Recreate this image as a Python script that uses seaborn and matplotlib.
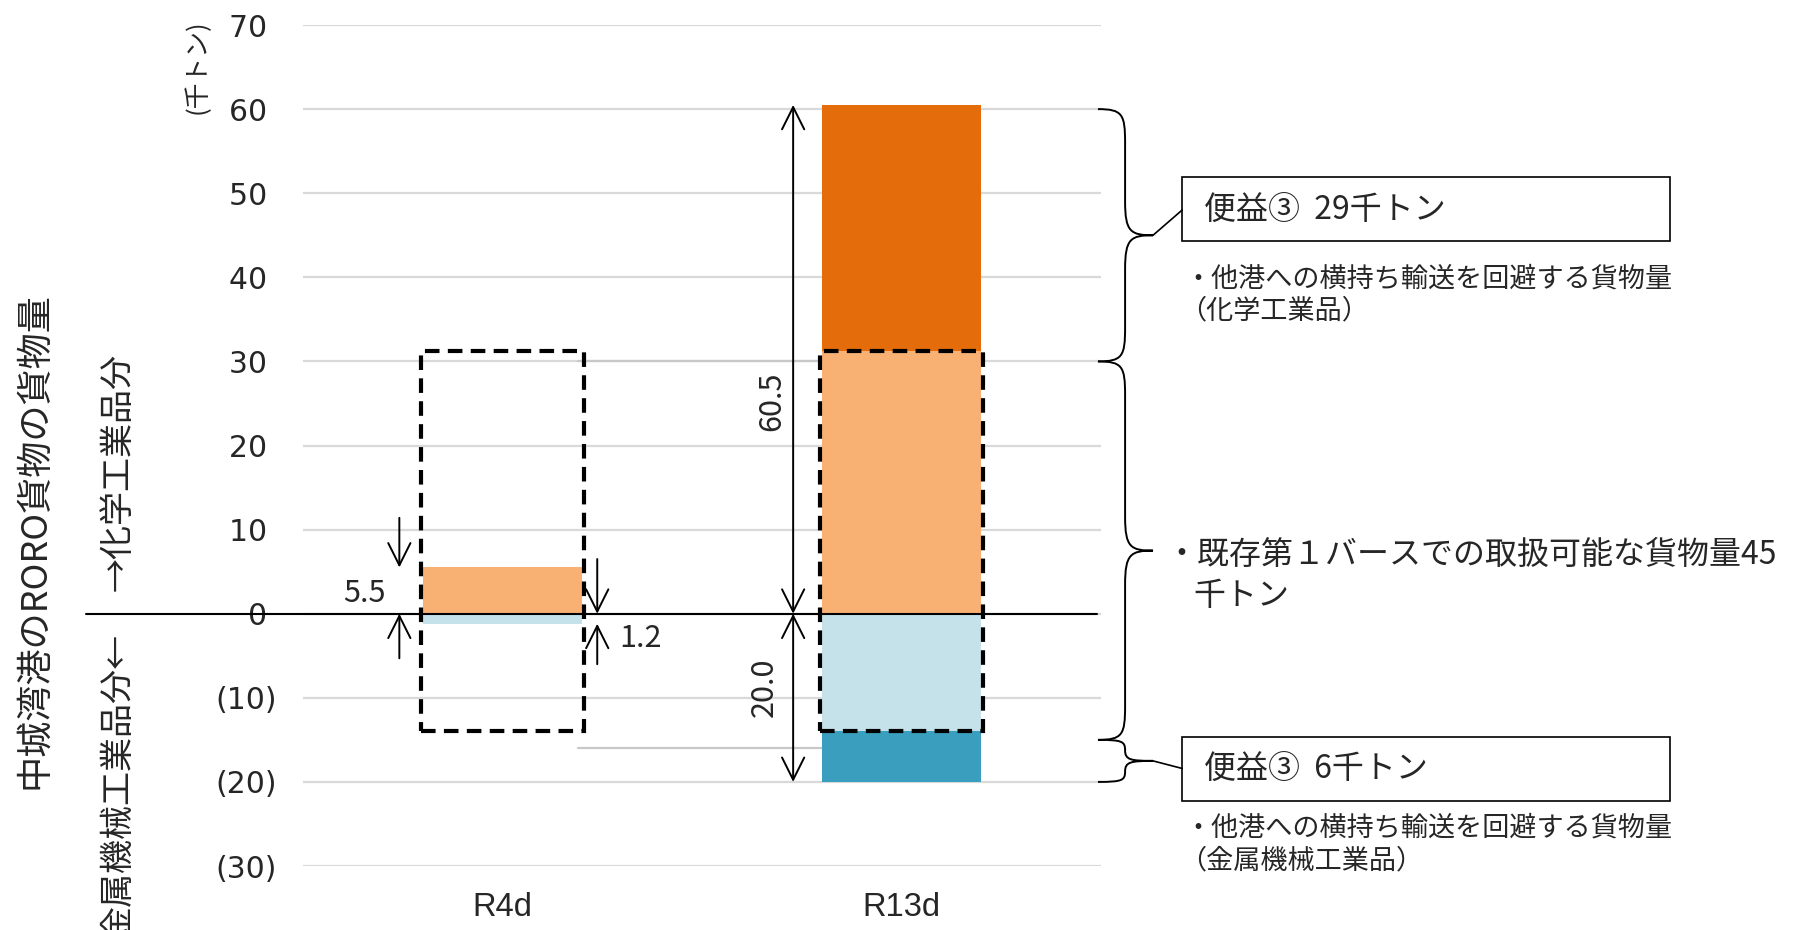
import matplotlib
matplotlib.use("Agg")
import matplotlib.pyplot as plt
from matplotlib.path import Path
from matplotlib.patches import PathPatch, Rectangle
import pandas as pd
import seaborn as sns

# ---- data (thousand tonnes) ----
categories = ["R4d", "R13d"]
chem_existing = [5.5, 31.2]     # 化学工業品: handled at the existing berth
chem_benefit = [0.0, 29.3]      # 化学工業品: avoided transshipment
metal_existing = [1.2, 14.0]    # 金属機械工業品: handled at the existing berth
metal_benefit = [0.0, 6.0]      # 金属機械工業品: avoided transshipment
y_ticks = [-30, -20, -10, 0, 10, 20, 30, 40, 50, 60, 70]
y_tick_labels = ["(30)", "(20)", "(10)", "0 ", "10 ", "20 ", "30 ", "40 ",
                 "50 ", "60 ", "70 "]

DARK_ORANGE = "#E46C0A"
LIGHT_ORANGE = "#F8B172"
LIGHT_BLUE = "#C5E2EB"
DARK_BLUE = "#3A9FBE"
GRID = "#D9D9D9"

sns.set_style("white")
plt.rcParams["font.family"] = ["Noto Sans CJK JP", "DejaVu Sans"]

chem_total = [a + b for a, b in zip(chem_existing, chem_benefit)]
metal_total = [a + b for a, b in zip(metal_existing, metal_benefit)]
df = pd.DataFrame({
    "category": categories,
    "chem_total": chem_total,
    "chem_existing": chem_existing,
    "metal_total": [-v for v in metal_total],
    "metal_existing": [-v for v in metal_existing],
})

fig = plt.figure(figsize=(17.94, 9.30), dpi=100)
ax = fig.add_axes([0.169, 0.0688, 0.4448, 0.9043])

# stacked bars: totals first, the existing-berth part drawn over them
for col, colr in [("chem_total", DARK_ORANGE), ("chem_existing", LIGHT_ORANGE),
                  ("metal_total", DARK_BLUE), ("metal_existing", LIGHT_BLUE)]:
    sns.barplot(data=df, x="category", y=col, order=categories, color=colr,
                width=0.4, saturation=1, linewidth=0, errorbar=None, ax=ax,
                zorder=2)

ax.set_xlim(-0.5, 1.5)
ax.set_ylim(-30, 70)
ax.set_xlabel("")
ax.set_ylabel("")
for s in ax.spines.values():
    s.set_visible(False)
ax.set_yticks(y_ticks)
ax.set_yticklabels(y_tick_labels, fontsize=21.5, family="DejaVu Sans")
ax.tick_params(axis="y", length=0, pad=19)
ax.tick_params(axis="x", length=0, pad=19)
for t in ax.get_xticklabels():
    t.set_fontsize(23.5)
    t.set_family("Liberation Sans")
ax.yaxis.grid(True, color=GRID, lw=1.6, zorder=0)
ax.xaxis.grid(False)
ax.set_axisbelow(True)

# zero line, running out to the left label
ax.plot([-1.044, 1.49], [0, 0], color="black", lw=1.5, clip_on=False, zorder=4)
# series connector lines
ax.plot([0.19, 0.8], [30, 30], color="#C8C8C8", lw=1.6, zorder=1)
ax.plot([0.19, 0.8], [-16, -16], color="#C8C8C8", lw=1.6, zorder=1)

# dashed capacity boxes of the existing berth
cap_top = chem_existing[1]
cap_bottom = -metal_existing[1]
for i in range(len(categories)):
    ax.add_patch(Rectangle((i - 0.205, cap_bottom), 0.41, cap_top - cap_bottom,
                           fill=False, ec="black", lw=3,
                           ls=(0, (3.5, 2.0)), zorder=6, clip_on=False))

arrow = dict(arrowstyle="->", color="black", lw=1.4, mutation_scale=40,
             shrinkA=0, shrinkB=0)
darrow = dict(arrowstyle="<->", color="black", lw=1.4, mutation_scale=40,
              shrinkA=0, shrinkB=0)
NUM = 22

# R4d value markers
ax.annotate("", xy=(-0.259, chem_total[0]), xytext=(-0.259, 11.4), arrowprops=arrow)
ax.annotate("", xy=(-0.259, 0), xytext=(-0.259, -5.3), arrowprops=arrow)
ax.text(-0.347, 2.4, f"{chem_total[0]:.1f}", fontsize=NUM, ha="center", va="center")
ax.annotate("", xy=(0.237, 0), xytext=(0.237, 6.5), arrowprops=arrow)
ax.annotate("", xy=(0.237, -metal_total[0]), xytext=(0.237, -6.0), arrowprops=arrow)
ax.text(0.345, -3.0, f"{metal_total[0]:.1f}", fontsize=NUM, ha="center", va="center")

# R13d totals
ax.annotate("", xy=(0.728, chem_total[1]), xytext=(0.728, 0), arrowprops=darrow)
ax.annotate("", xy=(0.728, -metal_total[1]), xytext=(0.728, 0), arrowprops=darrow)
ax.text(0.675, 25.3, f"{chem_total[1]:.1f}", fontsize=NUM, rotation=90,
        ha="center", va="center")
ax.text(0.655, -8.7, f"{metal_total[1]:.1f}", fontsize=NUM, rotation=90,
        ha="center", va="center")


def brace(y_top, y_bot, x0=1.492, xs=1.56, xt=1.63, r=4.0):
    r = min(r, (y_top - y_bot) / 4)
    ym = (y_top + y_bot) / 2
    verts = [
        (x0, y_top),
        (x0 + (xs - x0) * 0.9, y_top), (xs, y_top - r * 0.15), (xs, y_top - r),
        (xs, ym + r),
        (xs, ym + r * 0.1), (xs + (xt - xs) * 0.2, ym), (xt, ym),
        (xs + (xt - xs) * 0.2, ym), (xs, ym - r * 0.1), (xs, ym - r),
        (xs, y_bot + r),
        (xs, y_bot + r * 0.15), (x0 + (xs - x0) * 0.9, y_bot), (x0, y_bot),
    ]
    codes = [Path.MOVETO,
             Path.CURVE4, Path.CURVE4, Path.CURVE4,
             Path.LINETO,
             Path.CURVE4, Path.CURVE4, Path.CURVE4,
             Path.CURVE4, Path.CURVE4, Path.CURVE4,
             Path.LINETO,
             Path.CURVE4, Path.CURVE4, Path.CURVE4]
    ax.add_patch(PathPatch(Path(verts, codes), fill=False, ec="black", lw=1.4,
                           clip_on=False, zorder=5))
    return ym


ym1 = brace(60, 30)
brace(30, -15)
ym3 = brace(-15, -20)

# benefit boxes
box_x0, box_x1 = 1.703, 2.926
for yb, yt, ym, ly in [(44.3, 51.9, ym1, 48.0), (-22.3, -14.6, ym3, -18.4)]:
    ax.add_patch(Rectangle((box_x0, yb), box_x1 - box_x0, yt - yb, fill=False,
                           ec="black", lw=1.2, clip_on=False, zorder=5))
    ax.plot([1.63, box_x0], [ym, ly], color="black", lw=1.2, clip_on=False)

ax.text(1.758, 48.0, "便益③  29千トン", fontsize=23, ha="left", va="center")
ax.text(1.708, 39.8, "・他港への横持ち輸送を回避する貨物量", fontsize=19.5,
        ha="left", va="center")
ax.text(1.695, 36.0, "（化学工業品）", fontsize=19.5, ha="left", va="center")
ax.text(1.66, 7.0, "・既存第１バースでの取扱可能な貨物量45", fontsize=23,
        ha="left", va="center")
ax.text(1.73, 2.1, "千トン", fontsize=23, ha="left", va="center")
ax.text(1.758, -18.5, "便益③  6千トン", fontsize=23, ha="left", va="center")
ax.text(1.708, -25.5, "・他港への横持ち輸送を回避する貨物量", fontsize=19.5,
        ha="left", va="center")
ax.text(1.695, -29.4, "（金属機械工業品）", fontsize=19.5, ha="left", va="center")

# axis titles
fig.text(0.019, 0.419, "中城湾港のRORO貨物の貨物量", fontsize=26, rotation=90,
         ha="center", va="center")
fig.text(0.0658, 0.365, "→化学工業品分", fontsize=24.5, rotation=90,
         rotation_mode="anchor", ha="left", va="center")
fig.text(0.0658, 0.3194, "金属機械工業品分←", fontsize=24.5, rotation=90,
         rotation_mode="anchor", ha="right", va="center")
fig.text(0.1098, 0.928, "(千トン)", fontsize=18.5, rotation=90,
         ha="center", va="center")

fig.savefig("out.png", dpi=100)
